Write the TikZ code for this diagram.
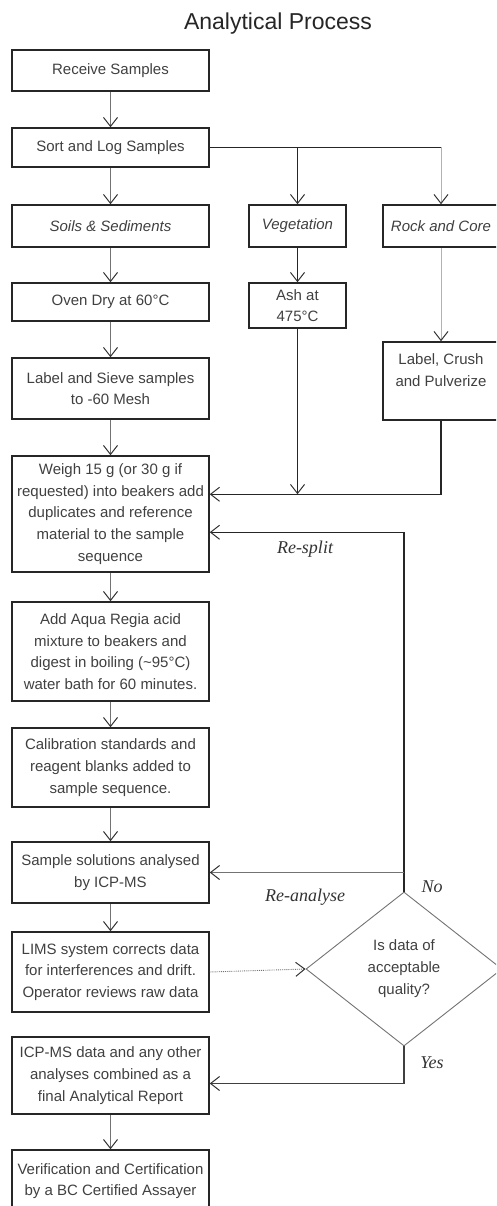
\documentclass[tikz,border=0pt]{standalone}
\usepackage{fontspec}
\setmainfont{Liberation Sans}
\newfontfamily\labelfont{Liberation Serif}
\usetikzlibrary{positioning,shapes.geometric,arrows.meta}

\begin{document}
\begin{tikzpicture}[x=1pt,y=-1pt,
    box/.style={rectangle,draw=black!85,line width=1.5pt,align=center,inner sep=2pt,
      minimum width=197pt,text=black!75,font=\fontsize{15}{21.7}\selectfont},
    sidebox/.style={box,minimum width=97pt},
    choice/.style={diamond,draw=black!55,line width=0.9pt,minimum width=196pt,
      minimum height=154pt,inner sep=0pt,align=center,text=black!75,
      font=\fontsize{15}{22}\selectfont},
    arr/.style={draw=black!55,line width=0.9pt,
      -{Straight Barb[length=9pt,width=14pt,line width=1pt,color=black!80]}},
    link/.style={draw=black!85,line width=1.4pt},
    lbl/.style={font=\labelfont\itshape\fontsize{18}{18}\selectfont,text=black!80}
    ]

    \clip (0,0) rectangle (496,1206);

    \node (title) [font=\fontsize{23}{23}\selectfont,text=black!85] at (278,24) {Analytical Process};

    % main column
    \node (recv) [box,minimum height=41pt] at (110.5,70.5) {Receive Samples};
    \node (sort) [box,minimum height=39pt] at (110.5,147.5) {Sort and Log Samples};
    \node (soils) [box,minimum height=42pt] at (110.5,226) {\itshape Soils \& Sediments};
    \node (oven) [box,minimum height=38pt] at (110.5,302) {Oven Dry at 60°C};
    \node (sieve) [box,minimum height=61pt] at (110.5,388.5) {Label and Sieve samples\\to -60 Mesh};
    \node (weigh) [box,minimum height=116pt] at (110.5,514) {Weigh 15 g (or 30 g if\\requested) into beakers add\\duplicates and reference\\material to the sample\\sequence};
    \node (aqua) [box,minimum height=99pt] at (110.5,651.5) {Add Aqua Regia acid\\mixture to beakers and\\digest in boiling (\textasciitilde95°C)\\water bath for 60 minutes.};
    \node (calib) [box,minimum height=79pt] at (110.5,767.5) {Calibration standards and\\reagent blanks added to\\sample sequence.};
    \node (icp) [box,minimum height=61pt] at (110.5,872.5) {Sample solutions analysed\\by ICP-MS};
    \node (lims) [box,minimum height=80pt] at (110.5,972) {LIMS system corrects data\\for interferences and drift.\\Operator reviews raw data};
    \node (report) [box,minimum height=77pt] at (110.5,1075.5) {ICP-MS data and any other\\analyses combined as a\\final Analytical Report};
    \node (verif) [box,minimum height=62pt] at (110.5,1181) {Verification and Certification\\by a BC Certified Assayer};

    % side columns
    \node (veg) [sidebox,minimum height=42pt] at (297.5,226) {\itshape Vegetation};
    \node (ash) [sidebox,minimum height=45pt] at (297.5,305.5) {Ash at\\475°C};
    \node (rock) [box,minimum width=116pt,minimum height=42pt] at (441,226) {\itshape Rock and Core};
    \node (crush) [box,minimum width=116pt,minimum height=78pt] at (441,381) {Label, Crush\\and Pulverize\\~};
    \node (check) [choice] at (404,969) {Is data of\\acceptable\\quality?};

    \foreach \a/\b in {recv/sort,sort/soils,soils/oven,oven/sieve,sieve/weigh,
                       weigh/aqua,aqua/calib,calib/icp,icp/lims,report/verif}
      \draw[arr] (\a) -- (\b);

    \coordinate (fork) at (sort.east -| rock.north);
    \draw[link] (sort.east) -- (fork);
    \draw[arr,link] (sort.east -| veg.north) -- (veg);
    \draw[arr,draw=black!30] (fork) -- (rock);
    \draw[arr,link] (veg) -- (ash);
    \draw[arr,draw=black!30] (rock) -- (crush);

    \coordinate (merge) at ([yshift=-39pt]weigh.north east);
    \draw[arr,link] (ash) -- (ash |- merge);
    \draw[arr,link] (crush) -- (crush |- merge) -- (merge);

    \coordinate (resplit) at ([yshift=-77pt]weigh.north east);
    \draw[arr,link] (check.north) -- (check.north |- resplit) -- (resplit);
    \draw[arr] (check.north |- icp.east) -- (icp.east);
    \draw[arr,densely dotted] (lims.east) -- (check.west);

    \coordinate (accept) at ([yshift=-8pt]report.east);
    \draw[arr,draw=black!75,line width=1.1pt] (check.south) -- (check.south |- accept) -- (accept);

    \node (lsplit) [lbl] at (305,549) {Re-split};
    \node (lagain) [lbl] at (305,897) {Re-analyse};
    \node (lno) [lbl] at (432,887) {No};
    \node (lyes) [lbl] at (432,1063) {Yes};

  \end{tikzpicture}
\end{document}
